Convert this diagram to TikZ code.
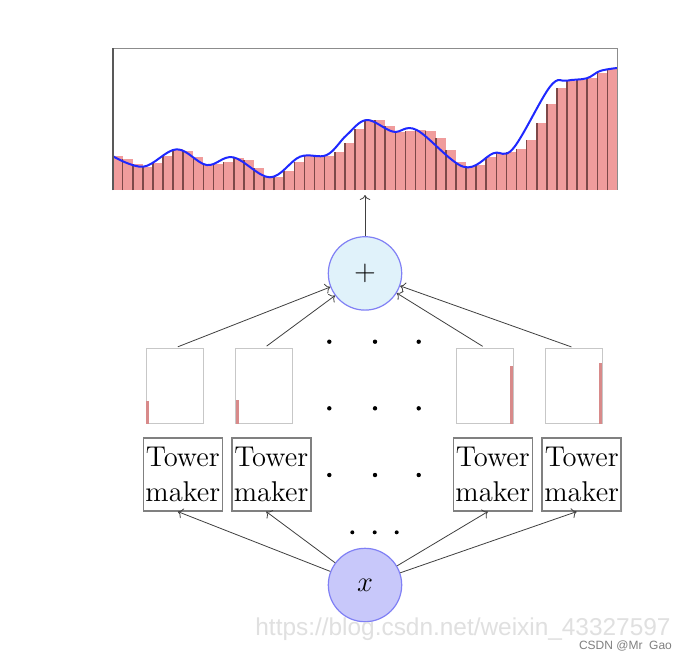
\RequirePackage{fix-cm}
\documentclass[tikz,border=0pt]{standalone}
\usepackage{fontspec}
\newfontfamily\wmfont{Liberation Sans}
\usetikzlibrary{arrows.meta}
\definecolor{barpink}{RGB}{240,156,156}
\definecolor{baredge}{RGB}{125,72,72}
\definecolor{curveblue}{RGB}{30,40,255}
\definecolor{sumfill}{RGB}{224,242,250}
\definecolor{infill}{RGB}{200,200,250}
\definecolor{ringblue}{RGB}{128,128,245}
\definecolor{towerred}{RGB}{216,138,138}

\begin{document}
\begin{tikzpicture}[x=0.5pt, y=-0.5pt,
  every node/.style={font=\fontsize{14.3}{17.3}\selectfont},
  conn/.style={->, draw=black!75, line width=0.4pt},
  towerbox/.style={draw=black!22, line width=0.6pt, minimum width=28.5pt, minimum height=37.5pt, inner sep=0pt},
  makerbox/.style={draw=black!50, line width=0.8pt, minimum width=39.5pt, minimum height=36.5pt, inner sep=0pt, align=center},
  sumnode/.style={circle, draw=ringblue, fill=sumfill, line width=0.6pt, minimum size=36.7pt, inner sep=0pt},
  innode/.style={circle, draw=ringblue, fill=infill, line width=0.6pt, minimum size=36.7pt, inner sep=0pt}]

\useasboundingbox[fill=white] (0,0) rectangle (688,660);

% Summed histogram of all towers
\foreach \h [count=\i] in {34,31,26,23,26.7,34,40.7,39,32.7,25,25.7,28.3,31.7,30,22.3,12.7,13.3,19,27.7,34,
  34,34,38.3,47.3,60.7,70,70,64.3,58.3,59,60,59,51.7,40,27.7,22.7,25,32.7,37.3,38.3,
  41,50,66.7,85.7,101.7,109.3,110,111.7,116.7,121}{
  \fill[barpink] ({112.5+(\i-1)*10.1},190) rectangle ++(10.1,-\h);
  \draw[baredge, line width=0.8pt] ({112.5+(\i-1)*10.1},190) -- ++(0,-\h);
}
% Target function
\draw[curveblue, line width=1pt] plot[smooth, tension=0.6] coordinates {
  (112.5,156) (143.3,166.7) (176.7,149.3) (206.7,165) (233.3,157.3) (270,177.3)
  (300,156.7) (326.7,155) (346.7,135) (366.7,120) (393.3,131.7) (416.7,130)
  (463.3,166.7) (493.3,153.3) (513.3,148.3) (550,86.7) (566.7,80.7) (586.7,78.3)
  (600,71) (617,68)};
% Frame
\draw[black!45, line width=0.5pt] (112.5,190) |- (617.3,48.3) -- (617.3,190);
\draw[black!65, line width=1pt] (112.5,48.3) -- (112.5,190);
\coordinate (chartbot) at (365,195);

% Sum and input
\node[sumnode] (sum) at (365,273.4) {$+$};
\node[innode] (x) at (365,585) {$x$};

% Single towers
\foreach \n/\px in {1/175, 2/264.2, 3/485.2, 4/574.2}
  \node[towerbox] (t\n) at (\px,386) {};
\fill[towerred] (t1.south west) ++(0.5,0) rectangle ++(2.7,-23);
\fill[towerred] (t2.south west) ++(1,0) rectangle ++(3,-24);
\fill[towerred] (t3.south east) ++(-1.5,0) rectangle ++(-3,-58);
\fill[towerred] (t4.south east) ++(-1,0) rectangle ++(-3,-61);

% Tower makers
\foreach \n/\px in {1/182.8, 2/271.2, 3/492.8, 4/581.7}
  \node[makerbox] (m\n) at (\px,474.3) {Tower\\maker};

% Dots for the omitted towers
\foreach \py in {341.7, 408.3, 475}
  \foreach \px in {329.3, 375, 418.7}
    \fill (\px,\py) circle (1.1pt);
\foreach \px in {352.3, 374.7, 396.7}
  \fill (\px,532.3) circle (1pt);

% Connectors
\draw[conn] (sum) -- (chartbot);
\foreach \n in {1,...,4}
  \draw[conn, shorten <=1.5pt] (t\n.north) -- (sum);
\foreach \n in {1,...,4}
  \draw[conn] (x) -- ([xshift=-2.5pt]m\n.south);

% Watermark
\node[anchor=base west, inner sep=0pt, text=black!12, font=\wmfont\fontsize{12.2}{14}\selectfont] (wm) at (255,635) {https://blog.csdn.net/weixin\_43327597};
\node[anchor=base east, inner sep=0pt, text=black!50, font=\wmfont\fontsize{6}{7}\selectfont] (sig) at (672.3,649) {CSDN @Mr\ \ Gao};

\end{tikzpicture}
\end{document}
